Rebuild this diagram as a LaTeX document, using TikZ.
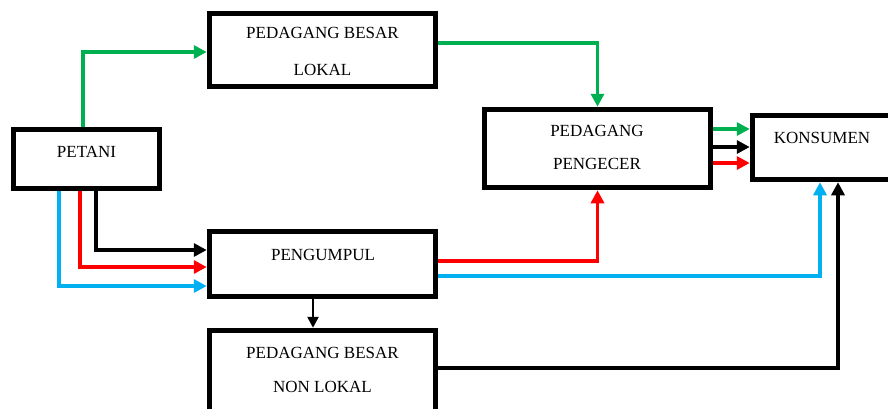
\documentclass[tikz,border=0pt]{standalone}
\usepackage{fontspec}
\setmainfont{Liberation Serif}
\usetikzlibrary{arrows.meta}
\definecolor{flowgreen}{RGB}{0,176,80}
\definecolor{flowred}{RGB}{255,0,0}
\definecolor{flowblue}{RGB}{0,176,240}
\begin{document}
\begin{tikzpicture}[x=1pt,y=-1pt,
  box/.style={draw, line width=5.5pt, rectangle, inner sep=0pt},
  txt/.style={font=\fontsize{17}{20}\selectfont, inner sep=0pt},
  flow/.style={line width=3.5pt, -{Triangle[length=13pt,width=13pt]}},
  thinflow/.style={line width=2.5pt, -{Triangle[length=11pt,width=11pt]}},
  ]
\fill[white] (0,0) rectangle (888,408);
\useasboundingbox (0,0) rectangle (888,408);

% boxes
\node[box, minimum width=226pt, minimum height=73pt] (pbl)  at (322.5,50)    {};
\node[box, minimum width=146pt, minimum height=59pt] (pet)  at (86.5,159)    {};
\node[box, minimum width=226pt, minimum height=65pt] (peng) at (322.5,264)   {};
\node[box, minimum width=226pt, minimum height=81pt] (pbnl) at (322.5,371)   {};
\node[box, minimum width=226pt, minimum height=78pt] (pp)   at (597.5,148.5) {};
\node[box, minimum width=140pt, minimum height=64pt] (kon)  at (822.5,147.5) {};

% labels
\node[txt] (pblA)  at (322.5,33)  {PEDAGANG BESAR};
\node[txt] (pblB)  at (322.5,70)  {LOKAL};
\node[txt] (petA)  at (86.5,152)  {PETANI};
\node[txt] (pengA) at (323,255)   {PENGUMPUL};
\node[txt] (pbnlA) at (322.5,353) {PEDAGANG BESAR};
\node[txt] (pbnlB) at (322.5,387) {NON LOKAL};
\node[txt] (ppA)   at (597,131)   {PEDAGANG};
\node[txt] (ppB)   at (597,164)   {PENGECER};
\node[txt] (konA)  at (822,138)   {KONSUMEN};

% green channel
\draw[flow, flowgreen] ([xshift=-3.5pt]pet.north) |- ([yshift=-2pt]pbl.west);
\draw[flow, flowgreen] ([yshift=7pt]pbl.east) -| (pp.north);

% petani to pengumpul
\draw[flow] ([xshift=9.5pt]pet.south) |- ([yshift=14pt]peng.west);
\draw[flow, flowred] ([xshift=-6.5pt]pet.south) |- ([yshift=-3pt]peng.west);
\draw[flow, flowblue] ([xshift=-27.5pt]pet.south) |- ([yshift=-22pt]peng.west);

% pengumpul onwards
\draw[flow, flowred] ([yshift=3pt]peng.east) -| (pp.south);
\draw[flow, flowblue] ([yshift=-12pt]peng.east) -| ([xshift=-2.5pt]kon.south);
\draw[thinflow] ([xshift=-9.5pt]peng.south) -- ([xshift=-9.5pt]pbnl.north);
\draw[flow] ([yshift=3pt]pbnl.east) -| ([xshift=15.5pt]kon.south);

% pengecer to konsumen
\coordinate (g1) at ([yshift=19.5pt]pp.east);
\coordinate (k1) at ([yshift=1.5pt]pp.east);
\coordinate (r1) at ([yshift=-14.5pt]pp.east);
\draw[flow, flowgreen] (g1) -- (g1 -| kon.west);
\draw[flow] (k1) -- (k1 -| kon.west);
\draw[flow, flowred] (r1) -- (r1 -| kon.west);
\end{tikzpicture}
\end{document}
